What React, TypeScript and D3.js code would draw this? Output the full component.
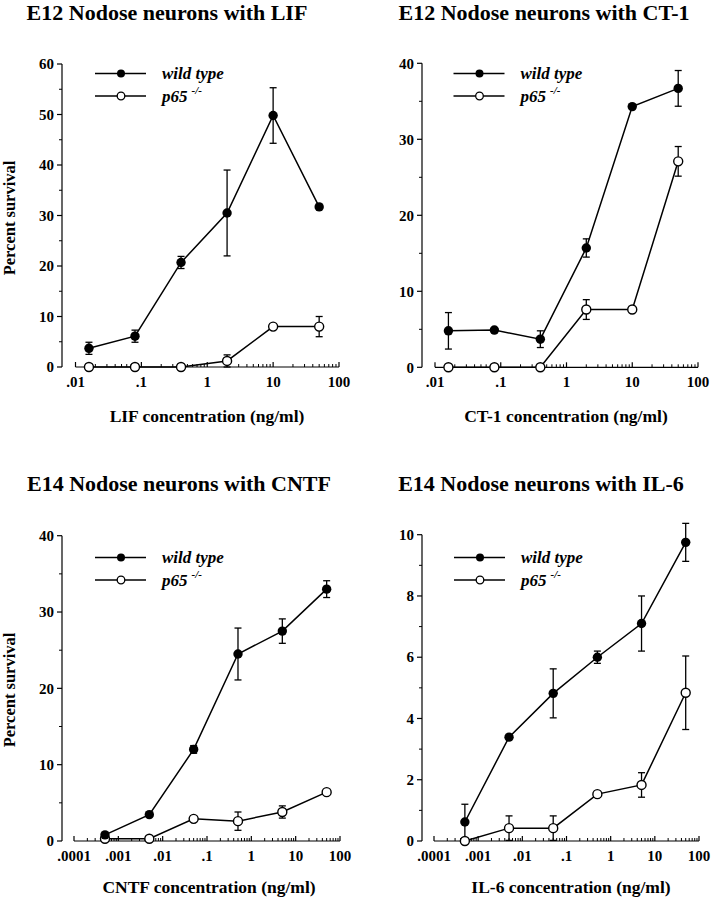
import React from "react";
import * as d3 from "d3";

// ---------- data ----------
const e12Conc = [0.016, 0.08, 0.4, 2, 10, 50];
const e14Conc = [0.0005, 0.005, 0.05, 0.5, 5, 50];

const lifWild = [3.7, 6.1, 20.7, 30.5, 49.8, 31.7];
const lifWildErr = [1.2, 1.2, 1.2, 8.5, 5.5, 0];
const lifP65 = [0, 0, 0, 1.2, 8.0, 8.0];
const lifP65Err = [0, 0, 0, 1.2, 0, 2.0];

const ct1Wild = [4.8, 4.9, 3.7, 15.7, 34.3, 36.7];
const ct1WildErr = [2.4, 0.3, 1.1, 1.2, 0, 2.35];
const ct1P65 = [0, 0, 0, 7.6, 7.6, 27.1];
const ct1P65Err = [0, 0, 0, 1.3, 0, 1.95];

const cntfWild = [0.8, 3.45, 12.0, 24.5, 27.5, 33.0];
const cntfWildErr = [0, 0, 0.5, 3.4, 1.6, 1.1];
const cntfP65 = [0.3, 0.3, 2.9, 2.6, 3.8, 6.4];
const cntfP65Err = [0, 0, 0, 1.2, 0.8, 0];

const il6Wild = [0.62, 3.39, 4.82, 6.0, 7.1, 9.75];
const il6WildErr = [0.58, 0, 0.8, 0.2, 0.9, 0.62];
const il6P65 = [0, 0.42, 0.42, 1.53, 1.83, 4.84];
const il6P65Err = [0, 0.4, 0.4, 0, 0.4, 1.2];

const e12XTickValues = [0.01, 0.1, 1, 10, 100];
const e12XTickLabels = [".01", ".1", "1", "10", "100"];
const e14XTickValues = [0.0001, 0.001, 0.01, 0.1, 1, 10, 100];
const e14XTickLabels = [".0001", ".001", ".01", ".1", "1", "10", "100"];

const seriesNames = ["wild type", "p65"];

const FONT = "Liberation Serif, Times New Roman, Times, serif";

type PanelProps = {
  title: string;
  titleX: number;
  titleY: number;
  xLabel: string;
  xLabelX: number;
  xLabelY: number;
  yLabel?: string;
  yLabelX?: number;
  yLabelY?: number;
  yAxisX: number;
  xRange: [number, number];
  yRange: [number, number];
  xDomain: [number, number];
  yMax: number;
  yStep: number;
  yMinor: number;
  xTickValues: number[];
  xTickLabels: string[];
  conc: number[];
  wild: number[];
  wildErr: number[];
  p65: number[];
  p65Err: number[];
  legendX: number;
  legendY: number;
};

function Panel(p: PanelProps) {
  const x = d3.scaleLog().domain(p.xDomain).range(p.xRange);
  const y = d3.scaleLinear().domain([0, p.yMax]).range(p.yRange);
  const yMajor = d3.range(0, p.yMax + 1e-9, p.yStep);
  const yMinorT = d3
    .range(0, p.yMax + 1e-9, p.yMinor)
    .filter((v) => Math.abs(v / p.yStep - Math.round(v / p.yStep)) > 1e-6);
  const xMinor = x
    .ticks()
    .filter((v) => Math.abs(Math.log10(v) - Math.round(Math.log10(v))) > 1e-6);
  const xAxisY = y(0);
  const line = d3
    .line<number>()
    .x((_, i) => x(p.conc[i]))
    .y((d) => y(d));

  const errBars = (vals: number[], errs: number[], key: string) =>
    vals.map((v, i) =>
      errs[i] > 0 ? (
        <g key={key + i} stroke="#000" strokeWidth={1.3}>
          <line x1={x(p.conc[i])} x2={x(p.conc[i])} y1={y(v - errs[i])} y2={y(v + errs[i])} />
          <line x1={x(p.conc[i]) - 3.5} x2={x(p.conc[i]) + 3.5} y1={y(v + errs[i])} y2={y(v + errs[i])} />
          <line x1={x(p.conc[i]) - 3.5} x2={x(p.conc[i]) + 3.5} y1={y(v - errs[i])} y2={y(v - errs[i])} />
        </g>
      ) : null
    );

  return (
    <g fontFamily={FONT} fontWeight="bold">
      <text x={p.titleX} y={p.titleY} textAnchor="middle" fontSize={22}>
        {p.title}
      </text>
      {/* y axis */}
      <line x1={p.yAxisX} x2={p.yAxisX} y1={y(0)} y2={y(p.yMax)} stroke="#000" strokeWidth={1.2} />
      {yMajor.map((v) => (
        <g key={"ym" + v}>
          <line x1={p.yAxisX - 5} x2={p.yAxisX} y1={y(v)} y2={y(v)} stroke="#000" strokeWidth={1.2} />
          <text x={p.yAxisX - 8} y={y(v)} dy="0.35em" textAnchor="end" fontSize={15}>
            {v}
          </text>
        </g>
      ))}
      {yMinorT.map((v) => (
        <line key={"yn" + v} x1={p.yAxisX - 3} x2={p.yAxisX} y1={y(v)} y2={y(v)} stroke="#000" strokeWidth={1} />
      ))}
      {/* x axis */}
      <line x1={p.xRange[0]} x2={p.xRange[1]} y1={xAxisY} y2={xAxisY} stroke="#000" strokeWidth={1.2} />
      {p.xTickValues.map((v, i) => (
        <g key={"xm" + v}>
          <line x1={x(v)} x2={x(v)} y1={xAxisY} y2={xAxisY - 5} stroke="#000" strokeWidth={1.2} />
          <text x={x(v)} y={xAxisY + 20} textAnchor="middle" fontSize={15}>
            {p.xTickLabels[i]}
          </text>
        </g>
      ))}
      {xMinor.map((v) => (
        <line key={"xn" + v} x1={x(v)} x2={x(v)} y1={xAxisY} y2={xAxisY - 3} stroke="#000" strokeWidth={1} />
      ))}
      <text x={p.xLabelX} y={p.xLabelY} textAnchor="middle" fontSize={17.5}>
        {p.xLabel}
      </text>
      {p.yLabel ? (
        <text
          transform={`translate(${p.yLabelX},${p.yLabelY}) rotate(-90)`}
          textAnchor="middle"
          fontSize={16.5}
        >
          {p.yLabel}
        </text>
      ) : null}
      {/* data */}
      <path d={line(p.wild) || ""} fill="none" stroke="#000" strokeWidth={1.5} />
      <path d={line(p.p65) || ""} fill="none" stroke="#000" strokeWidth={1.5} />
      {errBars(p.wild, p.wildErr, "we")}
      {errBars(p.p65, p.p65Err, "pe")}
      {p.p65.map((v, i) => (
        <circle key={"pc" + i} cx={x(p.conc[i])} cy={y(v)} r={4.5} fill="#fff" stroke="#000" strokeWidth={1.4} />
      ))}
      {p.wild.map((v, i) => (
        <circle key={"wc" + i} cx={x(p.conc[i])} cy={y(v)} r={4.7} fill="#000" />
      ))}
      {/* legend */}
      <g>
        <line x1={p.legendX} x2={p.legendX + 51} y1={p.legendY} y2={p.legendY} stroke="#000" strokeWidth={1.3} />
        <circle cx={p.legendX + 26} cy={p.legendY} r={4} fill="#000" />
        <text x={p.legendX + 67} y={p.legendY + 5} fontSize={17} fontStyle="italic">
          {seriesNames[0]}
        </text>
        <line x1={p.legendX} x2={p.legendX + 51} y1={p.legendY + 22.5} y2={p.legendY + 22.5} stroke="#000" strokeWidth={1.3} />
        <circle cx={p.legendX + 26} cy={p.legendY + 22.5} r={3.8} fill="#fff" stroke="#000" strokeWidth={1.3} />
        <text x={p.legendX + 67} y={p.legendY + 28} fontSize={17} fontStyle="italic">
          {seriesNames[1]}
          <tspan dx={4} dy={-8} fontSize={11}>
            -/-
          </tspan>
        </text>
      </g>
    </g>
  );
}

export default function App() {
  return (
    <svg
      width={712}
      height={900}
      viewBox="0 0 712 900"
      style={{ position: "absolute", left: 0, top: 0, background: "#fff" }}
    >
      <rect width={712} height={900} fill="#fff" />
      <Panel
        title="E12 Nodose neurons with LIF"
        titleX={167}
        titleY={20}
        xLabel="LIF concentration (ng/ml)"
        xLabelX={207}
        xLabelY={422}
        yLabel="Percent survival"
        yLabelX={15}
        yLabelY={218}
        yAxisX={62}
        xRange={[75.5, 339]}
        yRange={[367, 64]}
        xDomain={[0.01, 100]}
        yMax={60}
        yStep={10}
        yMinor={5}
        xTickValues={e12XTickValues}
        xTickLabels={e12XTickLabels}
        conc={e12Conc}
        wild={lifWild}
        wildErr={lifWildErr}
        p65={lifP65}
        p65Err={lifP65Err}
        legendX={95}
        legendY={73.5}
      />
      <Panel
        title="E12 Nodose neurons with CT-1"
        titleX={544}
        titleY={20}
        xLabel="CT-1 concentration (ng/ml)"
        xLabelX={566}
        xLabelY={422}
        yAxisX={422}
        xRange={[435, 698]}
        yRange={[367.3, 63.3]}
        xDomain={[0.01, 100]}
        yMax={40}
        yStep={10}
        yMinor={5}
        xTickValues={e12XTickValues}
        xTickLabels={e12XTickLabels}
        conc={e12Conc}
        wild={ct1Wild}
        wildErr={ct1WildErr}
        p65={ct1P65}
        p65Err={ct1P65Err}
        legendX={453.5}
        legendY={73.5}
      />
      <Panel
        title="E14 Nodose neurons with CNTF"
        titleX={179}
        titleY={491}
        xLabel="CNTF concentration (ng/ml)"
        xLabelX={209}
        xLabelY={893}
        yLabel="Percent survival"
        yLabelX={15}
        yLabelY={690}
        yAxisX={62}
        xRange={[74, 340]}
        yRange={[841, 535.7]}
        xDomain={[0.0001, 100]}
        yMax={40}
        yStep={10}
        yMinor={5}
        xTickValues={e14XTickValues}
        xTickLabels={e14XTickLabels}
        conc={e14Conc}
        wild={cntfWild}
        wildErr={cntfWildErr}
        p65={cntfP65}
        p65Err={cntfP65Err}
        legendX={95}
        legendY={557.5}
      />
      <Panel
        title="E14 Nodose neurons with IL-6"
        titleX={541}
        titleY={491}
        xLabel="IL-6 concentration (ng/ml)"
        xLabelX={571}
        xLabelY={893}
        yAxisX={422}
        xRange={[434, 699]}
        yRange={[841, 534.7]}
        xDomain={[0.0001, 100]}
        yMax={10}
        yStep={2}
        yMinor={1}
        xTickValues={e14XTickValues}
        xTickLabels={e14XTickLabels}
        conc={e14Conc}
        wild={il6Wild}
        wildErr={il6WildErr}
        p65={il6P65}
        p65Err={il6P65Err}
        legendX={454}
        legendY={557.5}
      />
    </svg>
  );
}
